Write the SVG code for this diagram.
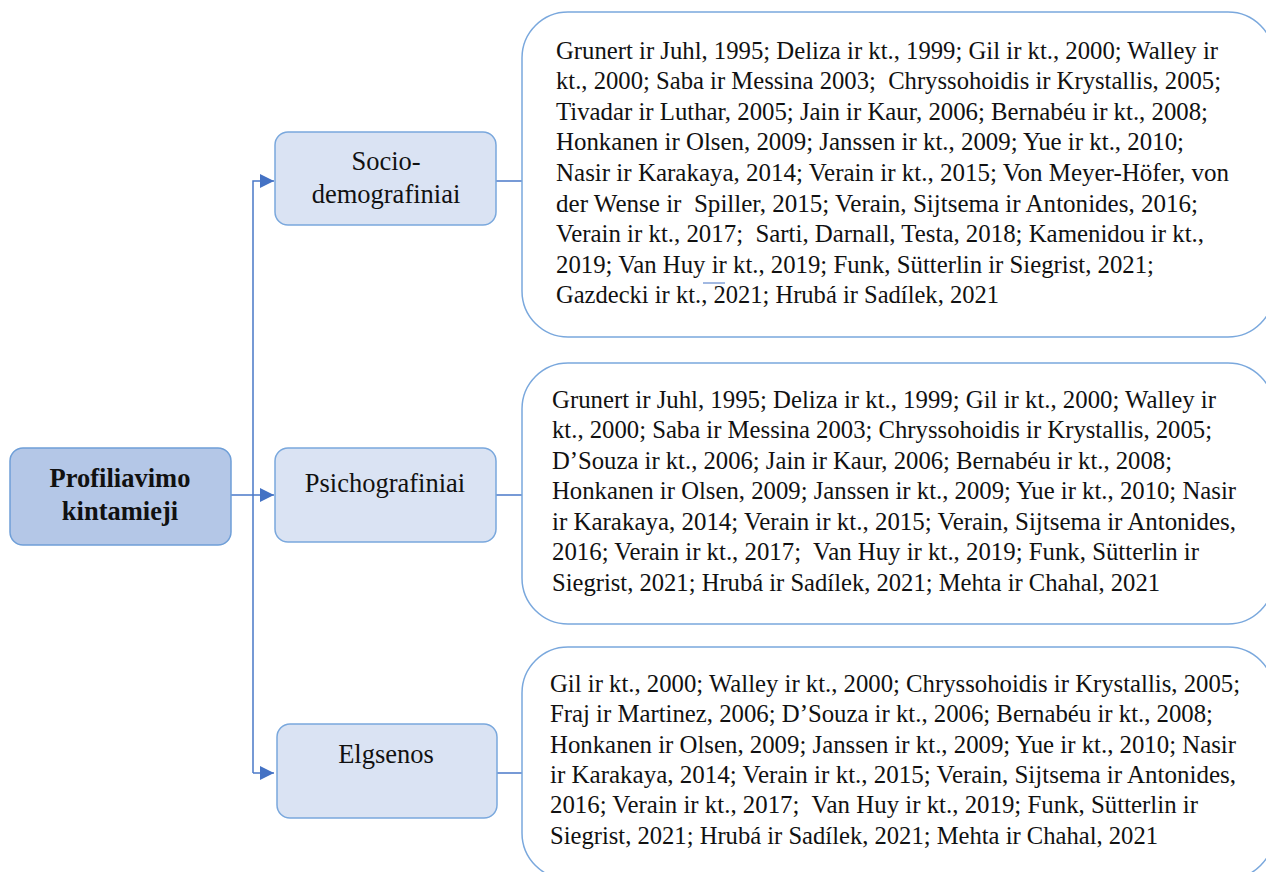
<svg xmlns="http://www.w3.org/2000/svg" width="1266" height="872" viewBox="0 0 1266 872">
<defs>
<style>
.main{fill:#b4c7e7;stroke:#6f9fd8;stroke-width:1.5}
.sub{fill:#dae3f3;stroke:#7aa8dd;stroke-width:1.5}
.big{fill:#ffffff;stroke:#7aa8dd;stroke-width:1.5}
.lbl{font-family:'Liberation Serif','Times New Roman',serif;font-size:26.5px;fill:#111;text-anchor:middle}
.bold{font-weight:bold}
.ref{font-family:'Liberation Serif','Times New Roman',serif;font-size:24.8px;fill:#111}
.conn{fill:none;stroke:#4a78c8;stroke-width:1.5}
</style>
<marker id="arr" viewBox="0 0 10 10" refX="10" refY="5" markerWidth="14" markerHeight="14" markerUnits="userSpaceOnUse" orient="auto">
<path d="M0,0 L10,5 L0,10 z" fill="#4472c4"/>
</marker>
</defs>
<rect width="1266" height="872" fill="#ffffff"/>

<g id="connectors">
<path class="conn" d="M231,495 H274" marker-end="url(#arr)"/>
<path class="conn" d="M253,773 V181 H274" marker-end="url(#arr)"/>
<path class="conn" d="M253,773 H274" marker-end="url(#arr)"/>
<path class="conn" d="M496,181 H522"/>
<path class="conn" d="M496,495 H522"/>
<path class="conn" d="M497,773 H522"/>
</g>

<g id="node-profiliavimo">
<rect class="main" x="10" y="448" width="221" height="97" rx="13"/>
<text class="lbl bold" x="120" y="487">Profiliavimo</text>
<text class="lbl bold" x="120" y="520">kintamieji</text>
</g>

<g id="node-socio">
<rect class="sub" x="275" y="132" width="221" height="93" rx="13"/>
<text class="lbl" x="386" y="170">Socio-</text>
<text class="lbl" x="386" y="203">demografiniai</text>
</g>

<g id="node-psicho">
<rect class="sub" x="275" y="448" width="221" height="94" rx="13"/>
<text class="lbl" x="385" y="492">Psichografiniai</text>
</g>

<g id="node-elgsenos">
<rect class="sub" x="277" y="724" width="220" height="94" rx="13"/>
<text class="lbl" x="386" y="763">Elgsenos</text>
</g>

<g id="refs-socio">
<rect class="big" x="522" y="12" width="752" height="325" rx="46"/>
<text class="ref" x="556" y="59" textLength="662" lengthAdjust="spacingAndGlyphs">Grunert ir Juhl, 1995; Deliza ir kt., 1999; Gil ir kt., 2000; Walley ir</text>
<text class="ref" x="556" y="89" textLength="665" lengthAdjust="spacingAndGlyphs" xml:space="preserve">kt., 2000; Saba ir Messina 2003;  Chryssohoidis ir Krystallis, 2005;</text>
<text class="ref" x="556" y="120" textLength="652" lengthAdjust="spacingAndGlyphs">Tivadar ir Luthar, 2005; Jain ir Kaur, 2006; Bernabéu ir kt., 2008;</text>
<text class="ref" x="556" y="150" textLength="628" lengthAdjust="spacingAndGlyphs">Honkanen ir Olsen, 2009; Janssen ir kt., 2009; Yue ir kt., 2010;</text>
<text class="ref" x="556" y="181" textLength="673" lengthAdjust="spacingAndGlyphs">Nasir ir Karakaya, 2014; Verain ir kt., 2015; Von Meyer-Höfer, von</text>
<text class="ref" x="556" y="212" textLength="642" lengthAdjust="spacingAndGlyphs" xml:space="preserve">der Wense ir  Spiller, 2015; Verain, Sijtsema ir Antonides, 2016;</text>
<text class="ref" x="556" y="242" textLength="648" lengthAdjust="spacingAndGlyphs" xml:space="preserve">Verain ir kt., 2017;  Sarti, Darnall, Testa, 2018; Kamenidou ir kt.,</text>
<text class="ref" x="556" y="273" textLength="598" lengthAdjust="spacingAndGlyphs">2019; Van Huy ir kt., 2019; Funk, Sütterlin ir Siegrist, 2021;</text>
<text class="ref" x="556" y="303" textLength="443" lengthAdjust="spacingAndGlyphs">Gazdecki ir kt., 2021; Hrubá ir Sadílek, 2021</text>
<line x1="703" y1="283" x2="725" y2="283" stroke="#4472c4" stroke-width="1"/>
</g>

<g id="refs-psicho">
<rect class="big" x="522" y="363" width="752" height="261" rx="46"/>
<text class="ref" x="552" y="408" textLength="664" lengthAdjust="spacingAndGlyphs">Grunert ir Juhl, 1995; Deliza ir kt., 1999; Gil ir kt., 2000; Walley ir</text>
<text class="ref" x="552" y="438" textLength="660" lengthAdjust="spacingAndGlyphs">kt., 2000; Saba ir Messina 2003; Chryssohoidis ir Krystallis, 2005;</text>
<text class="ref" x="552" y="469" textLength="620" lengthAdjust="spacingAndGlyphs">D’Souza ir kt., 2006; Jain ir Kaur, 2006; Bernabéu ir kt., 2008;</text>
<text class="ref" x="552" y="499" textLength="684" lengthAdjust="spacingAndGlyphs">Honkanen ir Olsen, 2009; Janssen ir kt., 2009; Yue ir kt., 2010; Nasir</text>
<text class="ref" x="552" y="530" textLength="684" lengthAdjust="spacingAndGlyphs">ir Karakaya, 2014; Verain ir kt., 2015; Verain, Sijtsema ir Antonides,</text>
<text class="ref" x="552" y="560" textLength="647" lengthAdjust="spacingAndGlyphs" xml:space="preserve">2016; Verain ir kt., 2017;  Van Huy ir kt., 2019; Funk, Sütterlin ir</text>
<text class="ref" x="552" y="591" textLength="608" lengthAdjust="spacingAndGlyphs">Siegrist, 2021; Hrubá ir Sadílek, 2021; Mehta ir Chahal, 2021</text>
</g>

<g id="refs-elgsenos">
<rect class="big" x="522" y="647" width="752" height="232" rx="46"/>
<text class="ref" x="550" y="692" textLength="690" lengthAdjust="spacingAndGlyphs">Gil ir kt., 2000; Walley ir kt., 2000; Chryssohoidis ir Krystallis, 2005;</text>
<text class="ref" x="550" y="722" textLength="663" lengthAdjust="spacingAndGlyphs">Fraj ir Martinez, 2006; D’Souza ir kt., 2006; Bernabéu ir kt., 2008;</text>
<text class="ref" x="550" y="753" textLength="686" lengthAdjust="spacingAndGlyphs">Honkanen ir Olsen, 2009; Janssen ir kt., 2009; Yue ir kt., 2010; Nasir</text>
<text class="ref" x="550" y="783" textLength="686" lengthAdjust="spacingAndGlyphs">ir Karakaya, 2014; Verain ir kt., 2015; Verain, Sijtsema ir Antonides,</text>
<text class="ref" x="550" y="813" textLength="648" lengthAdjust="spacingAndGlyphs" xml:space="preserve">2016; Verain ir kt., 2017;  Van Huy ir kt., 2019; Funk, Sütterlin ir</text>
<text class="ref" x="550" y="844" textLength="608" lengthAdjust="spacingAndGlyphs">Siegrist, 2021; Hrubá ir Sadílek, 2021; Mehta ir Chahal, 2021</text>
</g>
</svg>
